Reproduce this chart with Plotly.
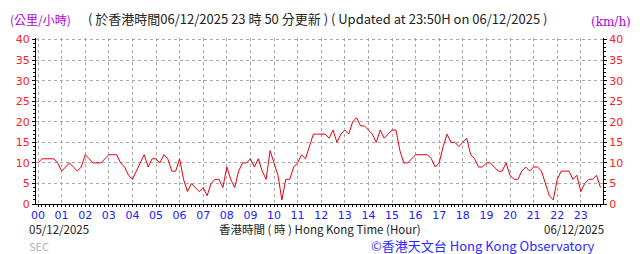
import plotly.graph_objects as go

# 10-minute mean wind speed (km/h), 00:00 -> 23:50
hour_labels = [f"{h:02d}" for h in range(24)]
hours = list(range(24))
y_ticks = [0, 5, 10, 15, 20, 25, 30, 35, 40]

speed = [
    10, 11, 11, 11, 11, 10,   # 00
    8, 9, 10, 9, 8, 9,        # 01
    12, 11, 10, 10, 10, 11,   # 02
    12, 12, 12, 10, 9, 7,     # 03
    6, 8, 10, 12, 9, 11,      # 04
    11, 10, 12, 11, 8, 8,     # 05
    11, 6, 3, 5, 4, 3,        # 06
    4, 2, 5, 6, 6, 4,         # 07
    9, 6, 4, 8, 10, 10,       # 08
    11, 9, 11, 8, 6, 13,      # 09
    10, 7, 1, 6, 6, 9,        # 10
    10, 12, 11, 14, 17, 17,   # 11
    17, 17, 16, 18, 15, 17,   # 12
    18, 17, 20, 21, 19, 19,   # 13
    18, 17, 15, 18, 16, 17,   # 14
    18, 18, 13, 10, 10, 11,   # 15
    12, 12, 12, 12, 11, 9,    # 16
    10, 14, 17, 15, 15, 14,   # 17
    15, 16, 12, 11, 9, 9,     # 18
    10, 10, 9, 8, 8, 10,      # 19
    7, 6, 6, 8, 9, 8,         # 20
    9, 9, 8, 5, 2, 1,         # 21
    6, 8, 8, 8, 6, 7,         # 22
    3, 5, 6, 6, 7, 4,         # 23
]
times = [i / 6 for i in range(len(speed))]

W, H = 643, 254
L, R, T, B = 36, 40, 38, 50

fig = go.Figure()
fig.add_trace(go.Scatter(x=times, y=speed, mode="lines",
                         line=dict(color="#e8000b", width=1),
                         showlegend=False, hoverinfo="skip"))
# invisible trace for right axis
fig.add_trace(go.Scatter(x=times, y=speed, mode="lines", yaxis="y2",
                         line=dict(width=0), opacity=0, showlegend=False,
                         hoverinfo="skip"))

grid = dict(showgrid=True, gridcolor="#a8a8a8", griddash="dot", gridwidth=1)
fig.update_layout(
    width=W, height=H,
    margin=dict(l=L, r=R, t=T, b=B),
    paper_bgcolor="white", plot_bgcolor="white",
    font=dict(family="DejaVu Sans, Noto Sans CJK TC", size=11),
    xaxis=dict(range=[-0.085, 23.94], tickvals=hours, ticktext=hour_labels,
               tickfont=dict(color="#2020ff", size=11, family="DejaVu Sans"),
               ticks="outside", ticklen=1, tickcolor="black",
               minor=dict(dtick=1/6, ticks="outside", ticklen=2, tickcolor="black", showgrid=False),
               showline=True, linecolor="black", linewidth=1, zeroline=False,
               mirror=False, **grid),
    yaxis=dict(range=[0, 40.4], tickvals=y_ticks,
               tickfont=dict(color="#ff2020", size=11, family="DejaVu Sans"),
               ticks="outside", ticklen=3, tickcolor="black",
               showline=True, linecolor="black", linewidth=1, zeroline=False,
               minor=dict(dtick=1, ticks="outside", ticklen=2, tickcolor="black", showgrid=False),
               **grid),
    yaxis2=dict(range=[0, 40.4], tickvals=y_ticks, overlaying="y", side="right",
                tickfont=dict(color="#ff2020", size=11, family="DejaVu Sans"),
                ticks="outside", ticklen=3, tickcolor="black",
                minor=dict(dtick=1, ticks="outside", ticklen=2, tickcolor="black"),
                showline=True, linecolor="black", linewidth=1, zeroline=False,
                showgrid=False),
)

def txt(x, y, s, color, size, anchor="left", family="Noto Sans CJK TC"):
    fig.add_annotation(xref="paper", yref="paper",
                       x=(x - L) / (W - L - R),
                       y=(H - B - y) / (H - T - B),
                       text=s, showarrow=False, xanchor=anchor, yanchor="middle",
                       font=dict(color=color, size=size, family=family))

txt(8, 20, "(公里/小時)", "#b000e0", 12)
txt(86, 18, "( 於香港時間06/12/2025 23 時 50 分更新 ) ( Updated at 23:50H on 06/12/2025 )", "#222222", 13)
txt(633, 22, "(km/h)", "#b000e0", 12, anchor="right", family="DejaVu Serif")
txt(27, 229, "05/12/2025", "#222222", 11.5)
txt(320, 229, "香港時間 ( 時 ) Hong Kong Time (Hour)", "#222222", 11.5, anchor="center")
txt(606, 229, "06/12/2025", "#222222", 11.5, anchor="right")
txt(27, 246, "SEC", "#b0b0b0", 11)
txt(597, 245, "©香港天文台 Hong Kong Observatory", "#2a2aff", 13, anchor="right")

fig.write_html("out.html")
